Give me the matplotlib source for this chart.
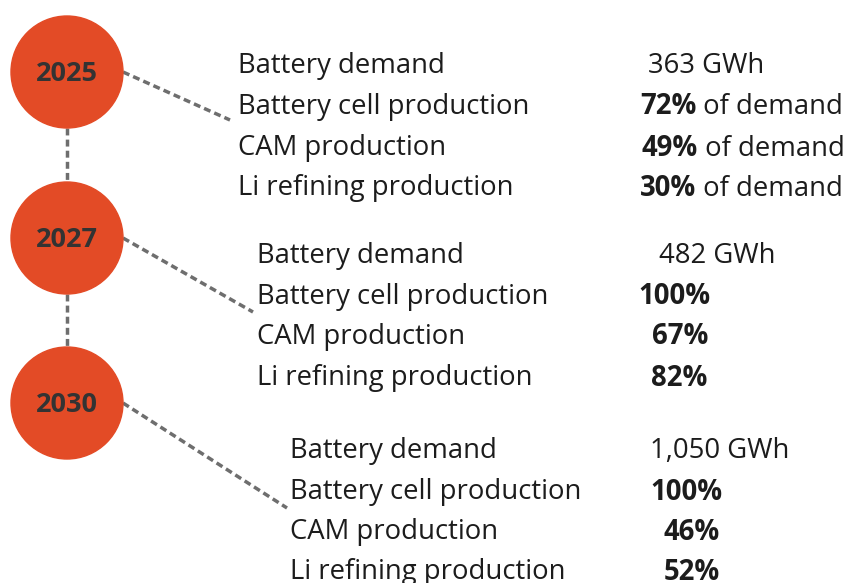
import matplotlib.pyplot as plt
from matplotlib.patches import Circle

plt.rcParams['font.family'] = ['Open Sans', 'DejaVu Sans']

years = ['2025', '2027', '2030']
labels = ['Battery demand', 'Battery cell production', 'CAM production', 'Li refining production']
demand = ['363 GWh', '482 GWh', '1,050 GWh']
cell_share = ['72%', '100%', '100%']
cam_share = ['49%', '67%', '46%']
li_share = ['30%', '82%', '52%']
suffix = [' of demand', '', '']

# layout in pixel units (figure is 847 x 583)
circle_y = [72, 238, 403]
circle_x, radius = 67, 56
label_x = [238, 257, 290]
row_y = [[66, 107, 148, 188], [256, 297, 337, 378], [451, 492, 532, 572]]
value_x = [[648, 640, 642, 640], [659, 638, 652, 651], [650, 650, 664, 664]]
line_end = [(230, 120), (253, 312), (287, 508)]

red = '#e34b26'
dash = '#6e6e6e'
txt = '#1c1c1c'
fs = 19.8

fig = plt.figure(figsize=(8.47, 5.83), dpi=100)
ax = fig.add_axes([0, 0, 1, 1])
ax.set_xlim(0, 847)
ax.set_ylim(583, 0)
ax.axis('off')

# vertical connectors
for i in range(len(years) - 1):
    ax.plot([circle_x, circle_x], [circle_y[i] + radius, circle_y[i + 1] - radius],
            color=dash, lw=2.5, ls=(0, (2, 1.2)), zorder=1)

for i, yr in enumerate(years):
    cy = circle_y[i]
    ax.add_patch(Circle((circle_x, cy), radius, color=red, zorder=2))
    ax.text(circle_x, cy + 2, yr, ha='center', va='center', fontsize=19.5,
            fontweight='bold', color='#333333', zorder=3)
    ax.plot([circle_x + radius, line_end[i][0]], [cy, line_end[i][1]],
            color=dash, lw=2.5, ls=(0, (2, 1.2)), zorder=1)

    vals = [demand[i], cell_share[i], cam_share[i], li_share[i]]
    for j, lab in enumerate(labels):
        y = row_y[i][j]
        ax.text(label_x[i], y, lab, ha='left', va='center', fontsize=fs, color=txt)
        if j == 0:
            ax.text(value_x[i][j], y, vals[j], ha='left', va='center', fontsize=fs, color=txt)
        else:
            t = ax.text(value_x[i][j], y, vals[j], ha='left', va='center', fontsize=fs,
                        fontweight='bold', color=txt)
            if suffix[i]:
                ax.annotate(suffix[i], xy=(1, 0), xycoords=t, ha='left', va='bottom',
                            fontsize=fs, color=txt)

fig.savefig('out.png', dpi=100, facecolor='white')
